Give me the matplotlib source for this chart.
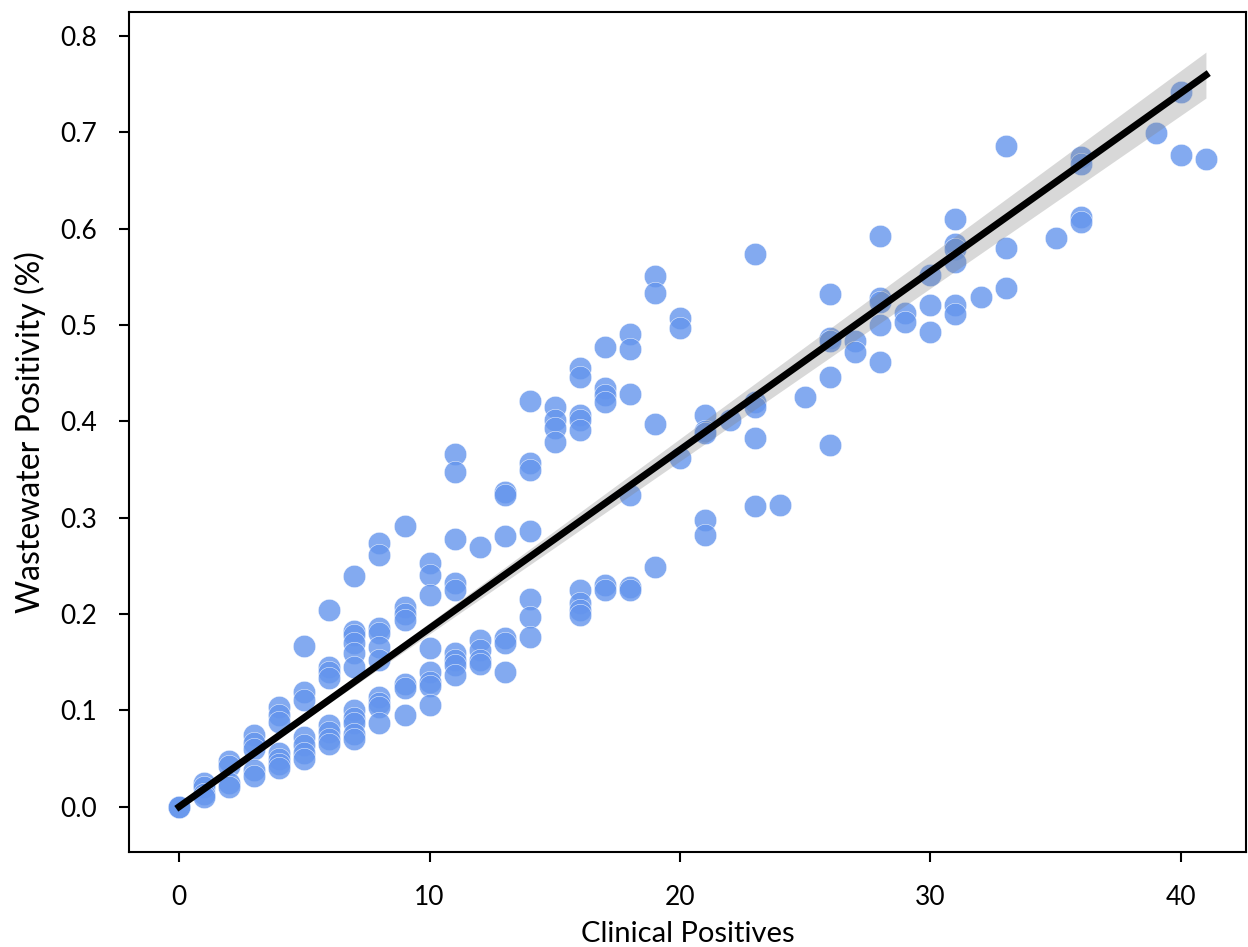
import matplotlib
matplotlib.use("Agg")
import matplotlib.pyplot as plt
import numpy as np

# clinical positives (x) and wastewater positivity (y), read column by column
col_x = [0, 1, 2, 3, 4, 5, 6, 7, 8, 9, 10, 11, 12, 13, 14, 15, 16, 17, 18, 19,
         20, 21, 22, 23, 24, 25, 26, 27, 28, 29, 30, 31, 32, 33, 35, 36, 39, 40, 41]
col_y = [
    [0.0, 0.0],
    [0.025, 0.020, 0.013, 0.010],
    [0.047, 0.042, 0.025, 0.020],
    [0.074, 0.066, 0.060, 0.038, 0.032],
    [0.104, 0.095, 0.088, 0.056, 0.050, 0.044, 0.040],
    [0.167, 0.119, 0.111, 0.072, 0.064, 0.056, 0.050],
    [0.204, 0.145, 0.140, 0.134, 0.085, 0.078, 0.070, 0.065],
    [0.240, 0.182, 0.178, 0.170, 0.160, 0.145, 0.100, 0.092, 0.087, 0.076, 0.070],
    [0.274, 0.261, 0.186, 0.180, 0.166, 0.152, 0.114, 0.108, 0.104, 0.087],
    [0.291, 0.207, 0.200, 0.194, 0.127, 0.123, 0.095],
    [0.253, 0.241, 0.220, 0.165, 0.140, 0.130, 0.125, 0.106],
    [0.366, 0.348, 0.278, 0.232, 0.225, 0.160, 0.152, 0.147, 0.137],
    [0.270, 0.173, 0.163, 0.152, 0.148],
    [0.327, 0.324, 0.281, 0.175, 0.170, 0.140],
    [0.421, 0.357, 0.350, 0.286, 0.216, 0.197, 0.176],
    [0.415, 0.401, 0.393, 0.379],
    [0.455, 0.446, 0.407, 0.401, 0.391, 0.225, 0.212, 0.204, 0.199],
    [0.477, 0.435, 0.427, 0.420, 0.230, 0.225],
    [0.491, 0.475, 0.428, 0.324, 0.228, 0.225],
    [0.551, 0.533, 0.397, 0.249],
    [0.507, 0.497, 0.362],
    [0.407, 0.390, 0.388, 0.298, 0.282],
    [0.401],
    [0.574, 0.420, 0.415, 0.383, 0.312],
    [0.313],
    [0.425],
    [0.532, 0.487, 0.484, 0.446, 0.376],
    [0.484, 0.472],
    [0.592, 0.528, 0.524, 0.500, 0.462],
    [0.513, 0.503],
    [0.552, 0.521, 0.493],
    [0.610, 0.584, 0.579, 0.566, 0.521, 0.512],
    [0.529],
    [0.686, 0.580, 0.539],
    [0.590],
    [0.674, 0.667, 0.612, 0.607],
    [0.699],
    [0.742, 0.677],
    [0.672],
]

xs = []
ys = []
for cx, cy in zip(col_x, col_y):
    for v in cy:
        xs.append(cx)
        ys.append(v)
xs = np.array(xs, dtype=float)
ys = np.array(ys)

# least squares through the origin, with 95% confidence band
b = np.sum(xs * ys) / np.sum(xs ** 2)
resid = ys - b * xs
s2 = np.sum(resid ** 2) / (len(xs) - 1)
se_b = np.sqrt(s2 / np.sum(xs ** 2))
xg = np.linspace(0, xs.max(), 200)
yg = b * xg
band = 1.973 * se_b * xg

plt.rcParams['font.family'] = ['Lato', 'DejaVu Sans']

fig = plt.figure(figsize=(12.48, 9.47), dpi=100)
ax = fig.add_axes([0.1034, 0.1003, 0.8950, 0.8870])

ax.scatter(xs, ys, s=260, color="cornflowerblue", alpha=0.8,
           edgecolor="white", linewidths=0.4, zorder=2)
ax.fill_between(xg, yg - band, yg + band, color="gray", alpha=0.3,
                linewidth=0, zorder=3)
ax.plot(xg, yg, color="black", lw=5, zorder=4)

ax.set_xlim(-2.0, 42.6)
ax.set_ylim(-0.047, 0.825)
ax.set_xticks([0, 10, 20, 30, 40])
ax.set_yticks(np.arange(0, 0.81, 0.1))
ax.set_yticklabels([f"{v:.1f}" for v in np.arange(0, 0.81, 0.1)])

ax.set_xlabel("Clinical Positives", fontsize=21, labelpad=7.5)
ax.set_ylabel("Wastewater Positivity (%)", fontsize=23, labelpad=10)
ax.tick_params(labelsize=19, length=7, width=1.5)
ax.tick_params(axis="x", pad=17)
ax.tick_params(axis="y", pad=16)
for s in ax.spines.values():
    s.set_linewidth(1.5)

fig.savefig("out.png", dpi=100)
